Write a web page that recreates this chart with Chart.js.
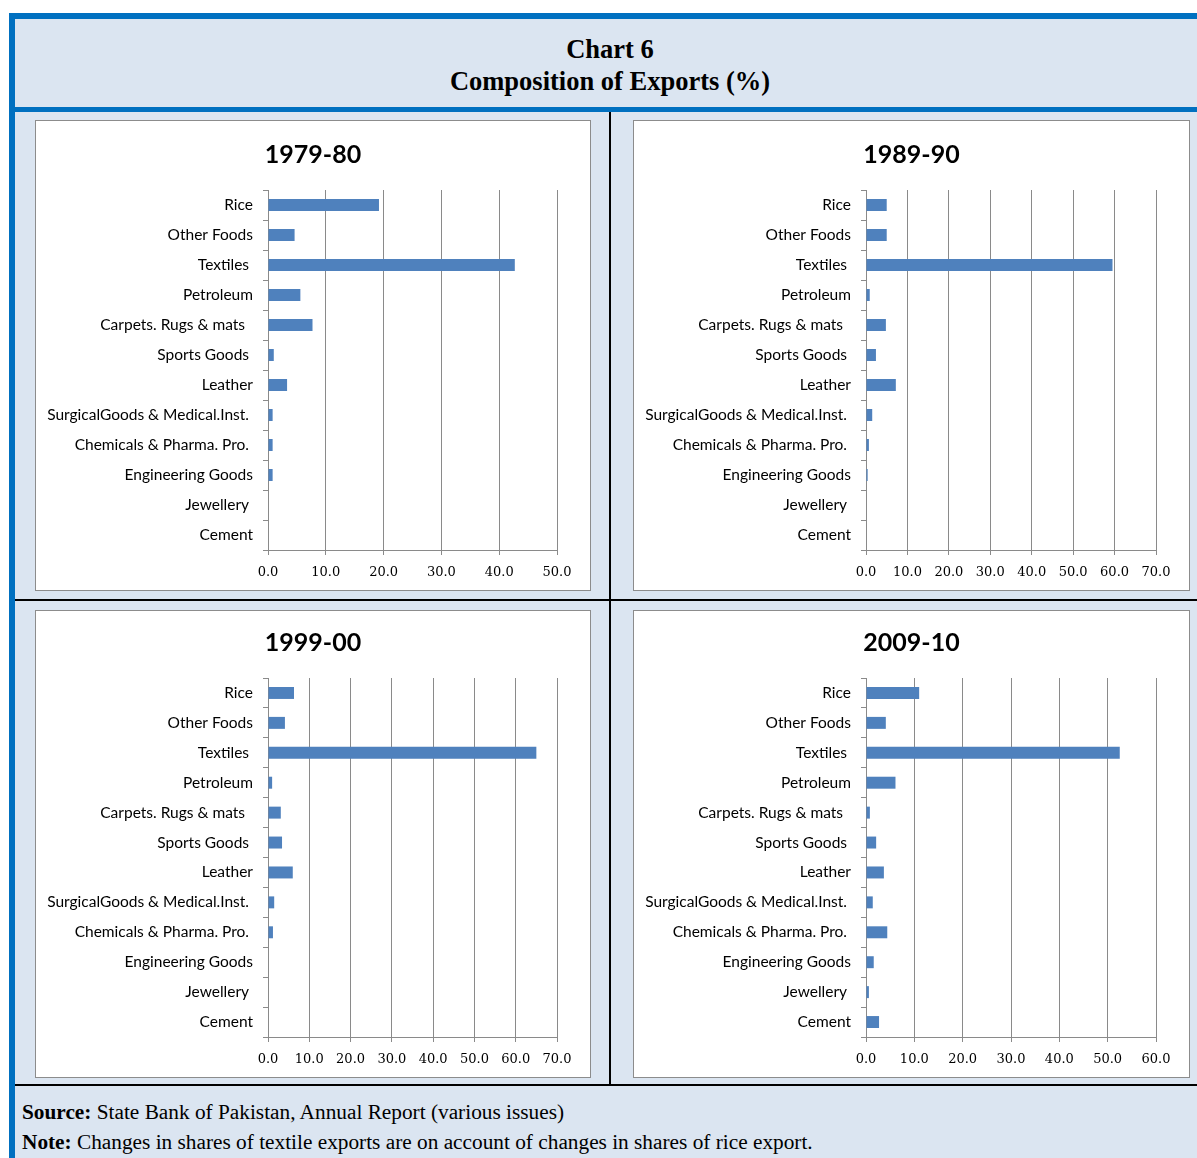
<!DOCTYPE html>
<html>
<head>
<meta charset="utf-8">
<script src="https://cdn.jsdelivr.net/npm/chart.js@4/dist/chart.umd.min.js"></script>
<style>
  html, body { margin: 0; padding: 0; background: #fff; }
  body { width: 1197px; height: 1158px; position: relative; overflow: hidden; }
  .frame { position: absolute; left: 9px; top: 13px; width: 1188px; height: 1145px;
           background: #dbe5f1; border-left: 6px solid #0070c0; border-top: 6px solid #0070c0; }
  .hdr { position: absolute; left: 15px; top: 19px; width: 1190px; height: 88px;
         font-family: "Liberation Serif", "Times New Roman", serif; font-weight: bold;
         font-size: 26.5px; line-height: 32px; text-align: center; color: #000; }
  .hdr div:first-child { padding-top: 14px; }
  .blue-line { position: absolute; left: 15px; top: 107px; width: 1182px; height: 5px; background: #0070c0; }
  .vline { position: absolute; left: 609px; top: 112px; width: 2px; height: 974px; background: #000; }
  .hline { position: absolute; left: 15px; height: 2px; width: 1182px; background: #000; }
  .panel { position: absolute; background: #fff; border: 1px solid #8c8c8c; box-sizing: border-box; }
  .panel canvas { display: block; position: absolute; left: 0; top: 0; }
  .ptitle { position: absolute; left: 0; width: 100%; text-align: center;
            font-family: Lato, "Open Sans", sans-serif; font-weight: bold; font-size: 25px;
            line-height: 30px; color: #000; }
  .foot { position: absolute; left: 22px; font-family: "Liberation Serif", "Times New Roman", serif;
          font-size: 21.3px; color: #000; white-space: nowrap; }
</style>
</head>
<body>
<div class="frame"></div>
<div class="hdr"><div>Chart 6</div><div>Composition of Exports (%)</div></div>
<div class="blue-line"></div>
<div class="vline"></div>
<div class="hline" style="top:599px"></div>
<div class="hline" style="top:1084px"></div>

<div class="panel" style="left:35px;top:120px;width:556px;height:471px"><canvas id="c1"></canvas><div class="ptitle" id="t1" style="top:17px"></div></div>
<div class="panel" style="left:633px;top:120px;width:557px;height:471px"><canvas id="c2"></canvas><div class="ptitle" id="t2" style="top:17px"></div></div>
<div class="panel" style="left:35px;top:610px;width:556px;height:468px"><canvas id="c3"></canvas><div class="ptitle" id="t3" style="top:15px"></div></div>
<div class="panel" style="left:633px;top:610px;width:557px;height:468px"><canvas id="c4"></canvas><div class="ptitle" id="t4" style="top:15px"></div></div>

<div class="foot" style="top:1100px"><b>Source:</b> State Bank of Pakistan, Annual Report (various issues)</div>
<div class="foot" style="top:1130px"><b>Note:</b> Changes in shares of textile exports are on account of changes in shares of rice export.</div>

<script>
// labels keep their trailing spaces, they shift the text like in the original
const categories = [
    'Rice', 'Other Foods', 'Textiles ', 'Petroleum', 'Carpets. Rugs & mats  ',
    'Sports Goods ', 'Leather', 'SurgicalGoods & Medical.Inst. ', 'Chemicals & Pharma. Pro. ',
    'Engineering Goods', 'Jewellery ', 'Cement'
];
const periods = ['1979-80', '1989-90', '1999-00', '2009-10'];

const shares1979 = [19.2, 4.6, 42.7, 5.6, 7.7, 1.0, 3.3, 0.8, 0.8, 0.8, 0, 0];
const shares1989 = [5.0, 5.0, 59.5, 0.9, 4.8, 2.4, 7.2, 1.5, 0.7, 0.4, 0, 0];
const shares1999 = [6.3, 4.1, 65.0, 1.0, 3.1, 3.4, 6.0, 1.5, 1.2, 0, 0, 0];
const shares2009 = [11.0, 4.1, 52.5, 6.1, 0.8, 2.1, 3.7, 1.4, 4.4, 1.6, 0.6, 2.7];

const axisMax = [50, 70, 70, 60];

const gridGrey = '#8a8a8a';

function makeChart(id, titleId, title, values, max, w, h, top) {
    document.getElementById(titleId).textContent = title;

    const canvas = document.getElementById(id);
    canvas.width = w;
    canvas.height = h;
    canvas.style.width = w + 'px';
    canvas.style.height = h + 'px';

    return new Chart(canvas, {
        type: 'bar',
        data: {
            labels: categories,
            datasets: [{
                data: values,
                backgroundColor: '#4f81bd',
                borderWidth: 0,
                barPercentage: 0.4,
                categoryPercentage: 1
            }]
        },
        options: {
            indexAxis: 'y',
            responsive: false,
            animation: false,
            layout: { padding: { left: 0, right: 33, top: top, bottom: 0 } },
            plugins: {
                legend: { display: false },
                tooltip: { enabled: false },
                title: { display: false }
            },
            scales: {
                x: {
                    min: 0,
                    max: max,
                    ticks: {
                        stepSize: 10,
                        color: '#000',
                        padding: 10,
                        maxRotation: 0,
                        font: { family: '"DejaVu Serif", serif', size: 13 },
                        callback: (v) => v.toFixed(1)
                    },
                    grid: { color: gridGrey, lineWidth: 1, tickLength: 5 },
                    border: { display: true, color: gridGrey, width: 1 },
                    afterFit: (s) => { s.height = 40; }
                },
                y: {
                    ticks: {
                        color: '#000',
                        padding: 10,
                        autoSkip: false,
                        font: { family: 'Lato, "Open Sans", sans-serif', size: 15.5 }
                    },
                    grid: { display: true, drawOnChartArea: false, offset: true, tickLength: 5, color: gridGrey },
                    border: { display: true, color: gridGrey, width: 1 },
                    afterFit: (s) => { s.width = 232; }
                }
            }
        }
    });
}

makeChart('c1', 't1', periods[0], shares1979, axisMax[0], 554, 469, 69);
makeChart('c2', 't2', periods[1], shares1989, axisMax[1], 555, 469, 69);
makeChart('c3', 't3', periods[2], shares1999, axisMax[2], 554, 466, 67);
makeChart('c4', 't4', periods[3], shares2009, axisMax[3], 555, 466, 67);
</script>
</body>
</html>
